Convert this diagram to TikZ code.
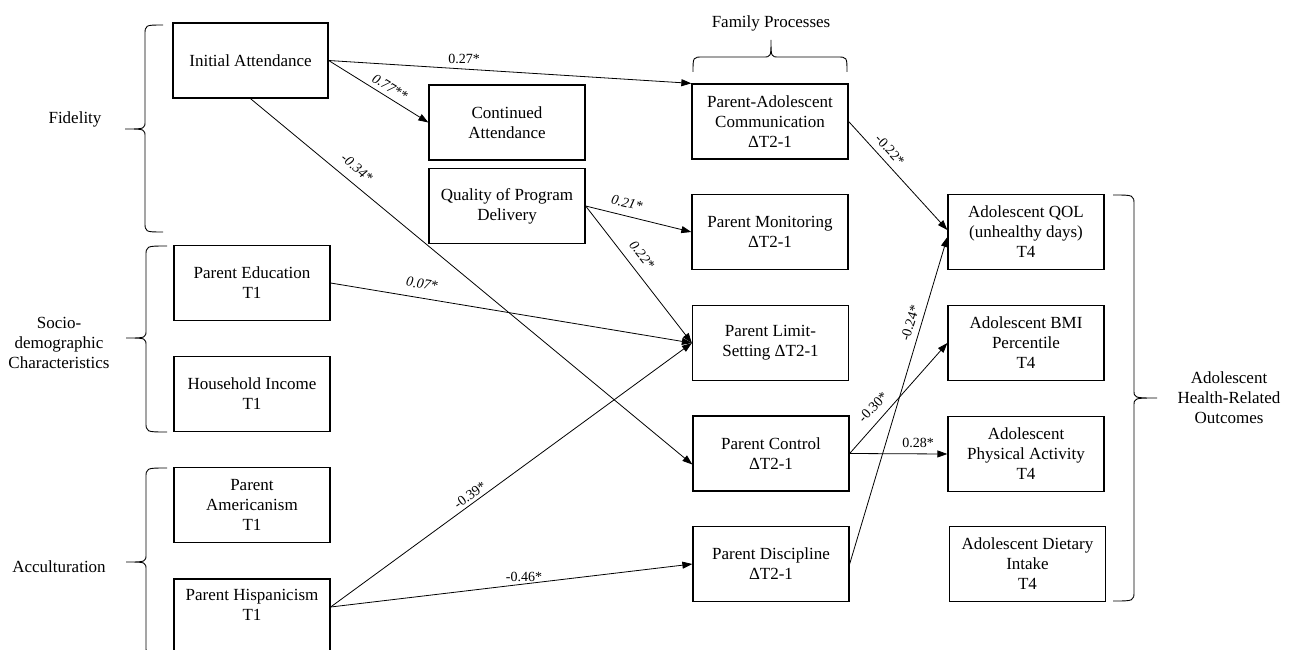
\documentclass[tikz,border=0pt]{standalone}
\usepackage{fontspec}
\setmainfont{Liberation Serif}
\usetikzlibrary{arrows.meta,calc}
\newcommand\vbrace[6]{%
  \draw[brc] (#1,#4) .. controls (#2,#4) .. (#2,#4+10) -- (#2,#5-8)
    .. controls (#2,#5) .. (#3,#5) .. controls (#2,#5) .. (#2,#5+8)
    -- (#2,#6-10) .. controls (#2,#6) .. (#1,#6);}
\begin{document}
\begin{tikzpicture}[x=1pt,y=-1pt,
  nbox/.style={draw, line width=1.3pt, minimum width=156pt, minimum height=75pt,
    inner sep=0pt, align=center, font=\fontsize{17pt}{20pt}\selectfont},
  grp/.style={align=center, font=\fontsize{17pt}{20pt}\selectfont, inner sep=0pt},
  elab/.style={font=\fontsize{14pt}{16pt}\selectfont, inner sep=1pt},
  elabi/.style={font=\fontsize{14pt}{16pt}\selectfont\itshape, inner sep=1pt},
  conn/.style={line width=0.8pt, -{Triangle[length=10pt,width=7pt]}},
  brc/.style={line width=0.9pt}]
\useasboundingbox (0,0) rectangle (1290,650);

% boxes
\node[nbox, minimum width=155pt] (ia) at (250.5,60.5) {Initial Attendance};
\node[nbox] (ca) at (507,122.5) {Continued\\Attendance};
\node[nbox] (qpd) at (507,206) {Quality of Program\\Delivery};
\node[nbox] (pac) at (770,121.5) {Parent-Adolescent\\Communication\\ΔT2-1};
\node[nbox] (pm) at (770,232) {Parent Monitoring\\ΔT2-1};
\node[nbox] (pls) at (770.5,343) {Parent Limit-\\Setting ΔT2-1};
\node[nbox] (pctl) at (771,453.5) {Parent Control\\ΔT2-1};
\node[nbox] (pdis) at (771,564) {Parent Discipline\\ΔT2-1};
\node[nbox] (pe) at (252,283) {Parent Education\\T1};
\node[nbox] (hi) at (252,394) {Household Income\\T1};
\node[nbox] (pam) at (252,505) {Parent\\Americanism\\T1};
\node[nbox, minimum height=78pt] (phi) at (252,618) {Parent Hispanicism\\T1\\\strut};
\node[nbox] (qol) at (1026,232) {Adolescent QOL\\(unhealthy days)\\T4};
\node[nbox] (bmi) at (1026,343) {Adolescent BMI\\Percentile\\T4};
\node[nbox] (pa) at (1026,454) {Adolescent\\Physical Activity\\T4};
\node[nbox] (diet) at (1027.5,564) {Adolescent Dietary\\Intake\\T4};

% group labels
\node[grp] (fid) at (75,119) {Fidelity};
\node[grp] (soc) at (59,343) {Socio-\\demographic\\Characteristics};
\node[grp] (acc) at (59,567) {Acculturation};
\node[grp] (fam) at (771,23) {Family Processes};
\node[grp] (aho) at (1229,398) {Adolescent\\Health-Related\\Outcomes};

% braces
\vbrace{163}{145}{125}{25}{129}{232}
\vbrace{167}{146}{126}{246}{338}{432}
\vbrace{167}{146}{126}{468}{562}{656}
\vbrace{1113}{1134}{1157}{195}{398}{601}
\draw[brc] (693,72) .. controls (693,57) .. (703,57) -- (763,57)
  .. controls (771,57) .. (771,40) .. controls (771,57) .. (779,57)
  -- (837,57) .. controls (847,57) .. (847,72);

% connectors
\coordinate (phiout) at ([yshift=11pt]phi.east);
\draw[conn] (ia.east) -- (pac.north west);
\draw[conn] (ia.east) -- (ca.west);
\draw[conn] (ia.south) -- ([yshift=-11pt]pctl.west);
\draw[conn] (qpd.east) -- (pm.west);
\draw[conn] (qpd.east) -- (pls.west);
\draw[conn] (pe.east) -- (pls.west);
\draw[conn] (phiout) -- (pls.west);
\draw[conn] (phiout) -- (pdis.west);
\draw[conn] (pac.east) -- ([yshift=2pt]qol.west);
\draw[conn] (pdis.east) -- ([yshift=-5pt]qol.west);
\draw[conn] (pctl.east) -- (bmi.west);
\draw[conn] (pctl.east) -- (pa.west);

% connector labels
\node[elab] (l1) at (464,59) {0.27*};
\node[elabi, rotate=-30.7] (l2) at (390,87) {0.77**};
\node[elabi, rotate=-39.7] (l3) at (357,168) {-0.34*};
\node[elabi, rotate=-13.3] (l4) at (627,203) {0.21*};
\node[elabi, rotate=-51.8] (l5) at (642,255) {0.22*};
\node[elabi, rotate=-9.2] (l6) at (422,284) {0.07*};
\node[elab, rotate=36] (l7) at (470,495) {-0.39*};
\node[elab] (l8) at (524,577) {-0.46*};
\node[elab, rotate=-47] (l9) at (890,150) {-0.22*};
\node[elab, rotate=73] (l10) at (910,323) {-0.24*};
\node[elab, rotate=46.7] (l11) at (873,407) {-0.30*};
\node[elab] (l12) at (918,443) {0.28*};
\end{tikzpicture}
\end{document}
